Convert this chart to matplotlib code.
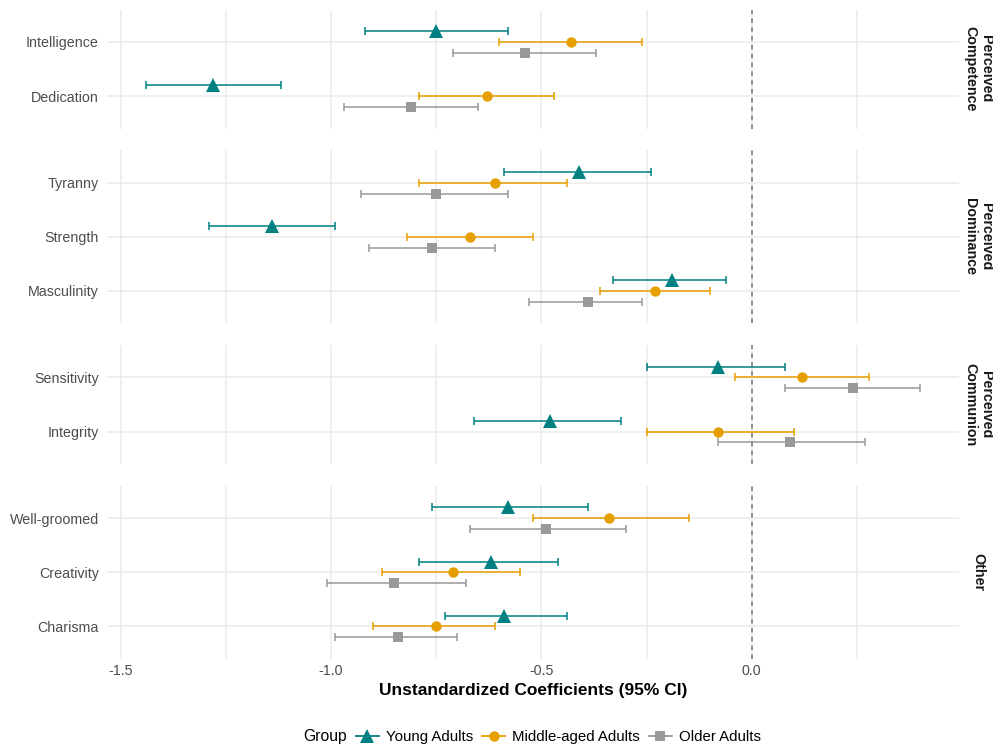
import matplotlib
matplotlib.use("Agg")
import matplotlib.pyplot as plt
from matplotlib.lines import Line2D

plt.rcParams["font.family"] = ["Liberation Sans", "DejaVu Sans"]
plt.rcParams["axes.unicode_minus"] = False

# data
domains = ["Perceived\nCompetence", "Perceived\nDominance", "Perceived\nCommunion", "Other"]
domain_traits = [
    ["Intelligence", "Dedication"],
    ["Tyranny", "Strength", "Masculinity"],
    ["Sensitivity", "Integrity"],
    ["Well-groomed", "Creativity", "Charisma"],
]
traits = [t for group in domain_traits for t in group]

young_est = [-0.75, -1.28, -0.41, -1.14, -0.19, -0.08, -0.48, -0.58, -0.62, -0.59]
young_lo = [-0.92, -1.44, -0.59, -1.29, -0.33, -0.25, -0.66, -0.76, -0.79, -0.73]
young_hi = [-0.58, -1.12, -0.24, -0.99, -0.06, 0.08, -0.31, -0.39, -0.46, -0.44]

middle_est = [-0.43, -0.63, -0.61, -0.67, -0.23, 0.12, -0.08, -0.34, -0.71, -0.75]
middle_lo = [-0.60, -0.79, -0.79, -0.82, -0.36, -0.04, -0.25, -0.52, -0.88, -0.90]
middle_hi = [-0.26, -0.47, -0.44, -0.52, -0.10, 0.28, 0.10, -0.15, -0.55, -0.61]

older_est = [-0.54, -0.81, -0.75, -0.76, -0.39, 0.24, 0.09, -0.49, -0.85, -0.84]
older_lo = [-0.71, -0.97, -0.93, -0.91, -0.53, 0.08, -0.08, -0.67, -1.01, -0.99]
older_hi = [-0.37, -0.65, -0.58, -0.61, -0.26, 0.40, 0.27, -0.30, -0.68, -0.70]

group_names = ["Young Adults", "Middle-aged Adults", "Older Adults"]

groups = [
    (group_names[0], young_est, young_lo, young_hi, "#008080", "^", 9.5, -0.2),
    (group_names[1], middle_est, middle_lo, middle_hi, "#E69F00", "o", 7.5, 0.0),
    (group_names[2], older_est, older_lo, older_hi, "#999999", "s", 7.5, 0.2),
]

W, H = 993, 746
fig = plt.figure(figsize=(W / 100, H / 100), dpi=100)

left_px, right_px = 107.3, 959.3
top_px = 9.5
unit_px = 54.1
gap_px = 21.7

grid_c = "#EBEBEB"
text_c = "#4D4D4D"

y0 = top_px
for d, (dom, names) in enumerate(zip(domains, domain_traits)):
    n = len(names)
    h = (n + 0.2) * unit_px
    ax = fig.add_axes([left_px / W, 1 - (y0 + h) / H, (right_px - left_px) / W, h / H])

    for (gname, est, lo, hi, col, mk, ms, off) in groups:
        for i, name in enumerate(names):
            k = traits.index(name)
            y = i + off
            ax.errorbar(est[k], y, xerr=[[est[k] - lo[k]], [hi[k] - est[k]]],
                        fmt="none", ecolor=col, alpha=0.85, elinewidth=1.3,
                        capsize=2.6, capthick=1.3, zorder=2)
            ax.plot(est[k], y, marker=mk, color=col, markersize=ms,
                    markeredgewidth=0, linestyle="none", zorder=3)

    ax.axvline(0, color="#7F7F7F", lw=1.2, linestyle=(0, (2.8, 2.5)), zorder=2.5)

    ax.set_xlim(-1.532, 0.4935)
    ax.set_ylim(n - 1 + 0.6, -0.6)
    ax.set_yticks(range(n))
    ax.set_yticklabels(names)
    ax.set_xticks([-1.5, -1.0, -0.5, 0.0])
    ax.set_xticks([-1.25, -0.75, -0.25, 0.25], minor=True)
    ax.grid(True, which="both", axis="x", color=grid_c, lw=1.1, zorder=0)
    ax.grid(True, which="major", axis="y", color=grid_c, lw=1.1, zorder=0)
    ax.set_axisbelow(True)
    for s in ax.spines.values():
        s.set_visible(False)
    ax.tick_params(axis="both", which="both", length=0, labelsize=10.3, labelcolor=text_c)
    ax.tick_params(axis="y", pad=6)
    ax.tick_params(axis="x", pad=4)
    if d < len(domains) - 1:
        ax.tick_params(axis="x", labelbottom=False)
    else:
        ax.set_xticklabels(["-1.5", "-1.0", "-0.5", "0.0"])

    fig.text(978 / W, 1 - (y0 + h / 2) / H, dom, rotation=270, ha="center", va="center",
             fontsize=10.3, fontweight="bold", color="#1A1A1A", multialignment="center")

    y0 += h + gap_px

fig.text(533 / W, 1 - 690 / H, "Unstandardized Coefficients (95% CI)", ha="center", va="center",
         fontsize=12.5, fontweight="bold", color="black")

handles = [Line2D([], [], color=g[4], marker=g[5], markersize=g[6], markeredgewidth=0, lw=1.3)
           for g in groups]
fig.text(303 / W, 1 - 737 / H, "Group", ha="left", va="center", fontsize=11.3, color="black")
fig.legend(handles, group_names, loc="center left", bbox_to_anchor=(356 / W, 1 - 737 / H),
           ncol=3, frameon=False, fontsize=10.8, handlelength=1.5, handletextpad=0.5,
           columnspacing=0.6, borderpad=0, borderaxespad=0)

fig.savefig("out.png", dpi=100)
